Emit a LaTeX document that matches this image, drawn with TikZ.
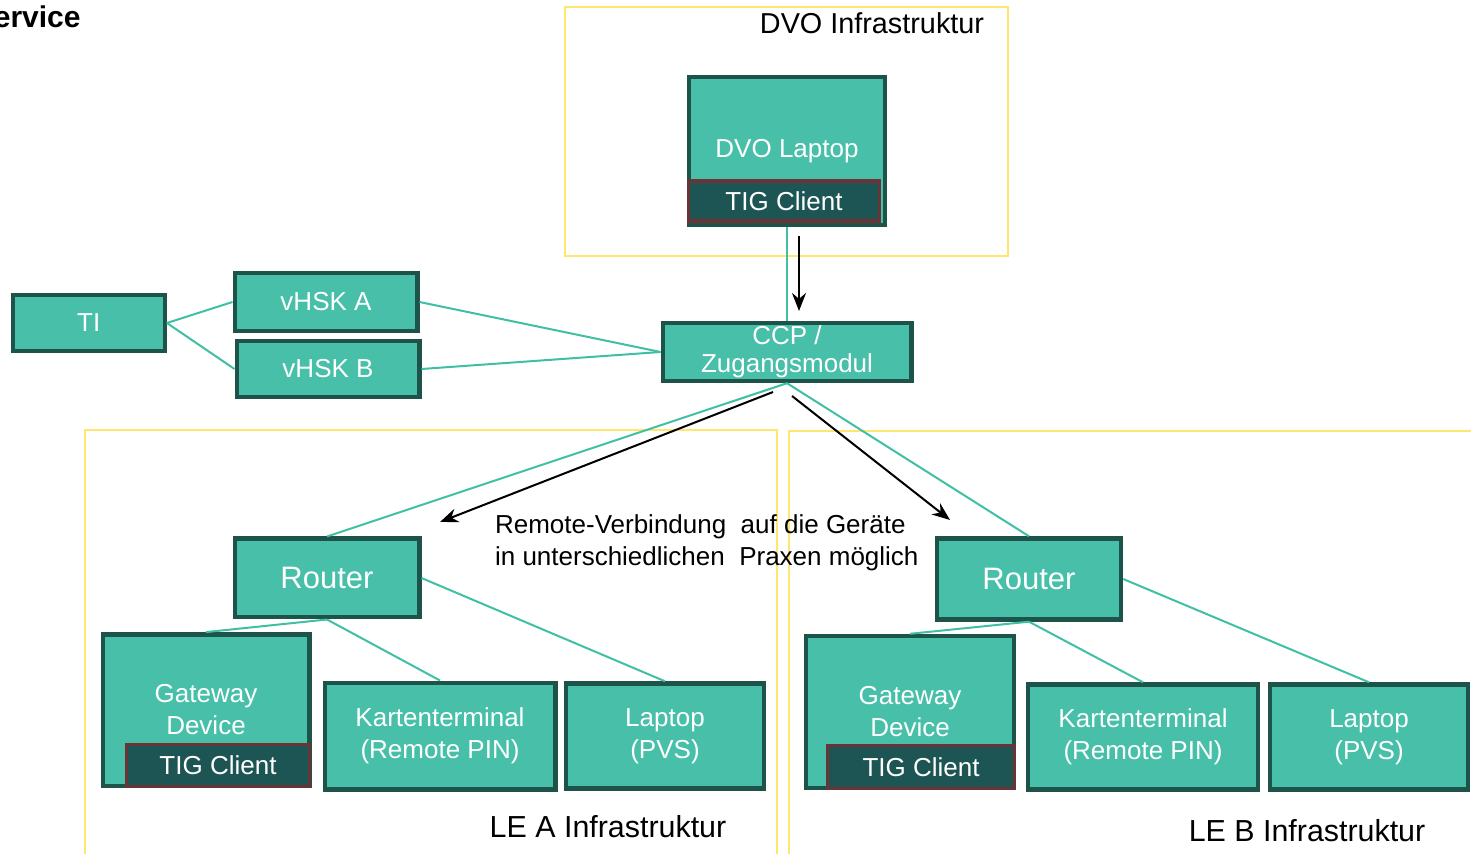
\documentclass[tikz,border=0pt]{standalone}
\usepackage{fontspec}
\setmainfont{Liberation Sans}
\usetikzlibrary{arrows.meta}

\definecolor{devfill}{HTML}{48BFA9}
\definecolor{devline}{HTML}{1D5348}
\definecolor{tigfill}{HTML}{1C5553}
\definecolor{tigline}{HTML}{6A3336}
\definecolor{linkcol}{HTML}{3FBFA4}
\definecolor{framecol}{HTML}{FFE66E}

\tikzset{
  dev/.style={draw=devline, fill=devfill, line width=2.2pt, text=white, align=center,
    inner sep=0pt, font=\fontsize{13}{16}\selectfont},
  tig/.style={draw=tigline, fill=tigfill, line width=1.6pt, text=white,
    inner sep=0pt, font=\fontsize{13}{16}\selectfont},
  link/.style={draw=linkcol, line width=1pt},
  frame/.style={draw=framecol, line width=0.8pt},
  flow/.style={->, line width=1pt},
}

\begin{document}
\begin{tikzpicture}[x=0.5pt, y=-0.5pt, >={Stealth[length=9pt,width=7pt]}]
\clip (0,0) rectangle (1471,854);
%\draw[step=50,gray,very thin] (0,0) grid (1471,854);

% frames
\draw[frame] (565,7) rectangle (1008,256);
\draw[frame] (85,430) rectangle (777,880);
\draw[frame] (789,431) rectangle (1490,880);
\node[anchor=east, inner sep=0pt, font=\fontsize{15}{16}\selectfont\bfseries] (title) at (81,17) {Service};
\node[font=\fontsize{14.4}{16}\selectfont] (dvoinfra) at (872,23) {DVO Infrastruktur};
\node[font=\fontsize{15.2}{18}\selectfont] (leainfra) at (608,827) {LE A Infrastruktur};
\node[font=\fontsize{15.2}{18}\selectfont] (lebinfra) at (1307,831) {LE B Infrastruktur};

% DVO side
\node[dev, minimum width=98pt, minimum height=74pt] (dvo) at (787,151) {DVO Laptop};
\node[tig, minimum width=95.5pt, minimum height=20pt] (tigdvo) at (784,201) {TIG Client};
\node[dev, minimum width=124.3pt, minimum height=29pt, font=\fontsize{13}{14}\selectfont] (ccp) at (787,352) {CCP /\\Zugangsmodul};

% TI
\node[dev, minimum width=76pt, minimum height=28pt] (ti) at (88.7,323) {TI};
\node[dev, minimum width=91.3pt, minimum height=29pt] (vhska) at (326,302) {vHSK A};
\node[dev, minimum width=91.3pt, minimum height=28pt] (vhskb) at (328,369) {vHSK B};

% LE A
\node[dev, minimum width=92.3pt, minimum height=39.3pt, font=\fontsize{15.5}{18}\selectfont] (routera) at (327,578) {Router};
\node[dev, minimum width=103.3pt, minimum height=75.7pt] (gwa) at (206,710) {Gateway\\Device};
\node[tig, minimum width=91.8pt, minimum height=20.8pt] (tiga) at (218,765.5) {TIG Client};
\node[dev, minimum width=115.3pt, minimum height=53.3pt] (karta) at (440,736) {Kartenterminal\\(Remote PIN)};
\node[dev, minimum width=99pt, minimum height=52.5pt] (laptopa) at (665,736) {Laptop\\(PVS)};

% LE B
\node[dev, minimum width=92pt, minimum height=40.5pt, font=\fontsize{15.5}{18}\selectfont] (routerb) at (1029,579) {Router};
\node[dev, minimum width=104pt, minimum height=76pt] (gwb) at (910,712) {Gateway\\Device};
\node[tig, minimum width=93.5pt, minimum height=21.5pt] (tigb) at (921,767) {TIG Client};
\node[dev, minimum width=115pt, minimum height=52.5pt] (kartb) at (1143,737) {Kartenterminal\\(Remote PIN)};
\node[dev, minimum width=99pt, minimum height=52.5pt] (laptopb) at (1369,737) {Laptop\\(PVS)};

% links
\draw[link] (dvo.south) -- (ccp.north);
\draw[link] (ti.east) -- (vhska.west);
\draw[link] (ti.east) -- (vhskb.west);
\draw[link] (vhska.east) -- (ccp.west);
\draw[link] (vhskb.east) -- (ccp.west);
\draw[link] (ccp.south) -- (routera.north);
\draw[link] (ccp.south) -- (routerb.north);
\draw[link] (routera.south) -- (gwa.north);
\draw[link] (routera.south) -- (karta.north);
\draw[link] (routera.east) -- (laptopa.north);
\draw[link] (routerb.south) -- (gwb.north);
\draw[link] (routerb.south) -- (kartb.north);
\draw[link] (routerb.east) -- (laptopb.north);

% remote access
\coordinate (d1) at (799,236);
\coordinate (d2) at (799,311);
\coordinate (r0) at (773,392);
\coordinate (ra) at (440,522);
\coordinate (s0) at (792,396);
\coordinate (rb) at (950,520);
\draw[flow] (d1) -- (d2);
\draw[flow] (r0) -- (ra);
\draw[flow] (s0) -- (rb);
\node[anchor=west, align=left, font=\fontsize{13}{16}\selectfont] (remote) at (488,543)
  {Remote-Verbindung~ auf die Geräte\\in unterschiedlichen~ Praxen möglich};
\end{tikzpicture}
\end{document}
